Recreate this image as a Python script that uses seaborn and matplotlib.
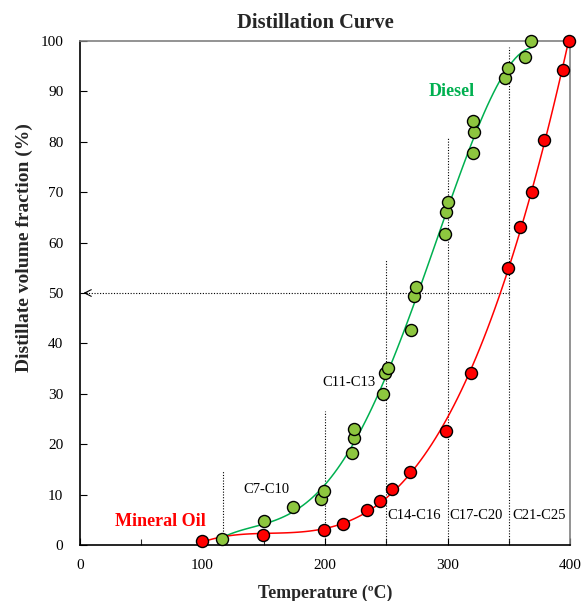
import numpy as np
import pandas as pd
import matplotlib
matplotlib.use("Agg")
import matplotlib.pyplot as plt
import seaborn as sns

# ---- data ----
diesel_temp = [116, 150, 174, 196.5, 199, 222, 224, 224, 247, 249, 251.5, 270, 273, 274,
               298, 299, 300, 320.5, 322, 321, 347, 349, 363, 368]
diesel_vol = [1.2, 4.8, 7.5, 9.1, 10.8, 18.2, 21.3, 23.0, 30.0, 34.1, 35.2, 42.7, 49.5, 51.2,
              61.8, 66.0, 68.1, 77.7, 81.9, 84.2, 92.6, 94.7, 96.9, 100]
oil_temp = [99.6, 149.6, 199.2, 214.5, 234.5, 244.5, 254.3, 269.3, 299, 319, 349, 359, 369, 379, 394, 399]
oil_vol = [0.7, 1.9, 3.0, 4.2, 7.0, 8.7, 11.1, 14.5, 22.6, 34.2, 55.0, 63.1, 70.0, 80.4, 94.2, 100]

cut_temps = [117, 200, 250, 300, 350]
cut_tops = [14.7, 26.6, 56.5, 81.0, 98.8]
cut_labels = ["C7-C10", "C11-C13", "C14-C16", "C17-C20", "C21-C25"]
x_ticks = [0, 100, 200, 300, 400]
y_ticks = [0, 10, 20, 30, 40, 50, 60, 70, 80, 90, 100]

diesel = pd.DataFrame({"T": diesel_temp, "V": diesel_vol})
oil = pd.DataFrame({"T": oil_temp, "V": oil_vol})

sns.set_theme(style="white")
plt.rcParams["font.family"] = ["Liberation Serif", "DejaVu Serif"]

fig = plt.figure(figsize=(5.83, 6.01), dpi=100)
ax = fig.add_axes([80 / 583, 56 / 601, 490 / 583, 504 / 601])

green_line = "#00B050"
green_fill = "#8DC63F"
red = "#FF0000"

# cut-off dotted lines
for t, top in zip(cut_temps, cut_tops):
    ax.plot([t, t], [0, top], color="black", lw=0.8, ls=(0, (1, 1.5)), zorder=1)
ax.plot([350, 3], [50, 50], color="black", lw=0.8, ls=(0, (1, 1.5)), zorder=1)
ax.annotate("", xy=(0.5, 50), xytext=(8, 50),
            arrowprops=dict(arrowstyle="->", lw=0.8, color="black"))

# trend curves
sns.regplot(data=diesel, x="T", y="V", order=4, ci=None, scatter=False, ax=ax,
            line_kws=dict(color=green_line, lw=1.1, zorder=2))
sns.regplot(data=oil, x="T", y="V", order=4, ci=None, scatter=False, ax=ax,
            line_kws=dict(color=red, lw=1.1, zorder=2))

sns.scatterplot(data=diesel, x="T", y="V", s=75, color=green_fill, edgecolor="black",
                linewidth=1.0, ax=ax, zorder=3, clip_on=False)
sns.scatterplot(data=oil, x="T", y="V", s=75, color=red, edgecolor="black",
                linewidth=1.0, ax=ax, zorder=3, clip_on=False)

ax.set_xlim(0, 400)
ax.set_ylim(0, 100)
ax.set_xticks(x_ticks)
ax.set_xticks([50, 150, 250, 350], minor=True)
ax.set_yticks(y_ticks)
ax.tick_params(axis="both", which="major", direction="in", length=5, width=0.8,
               labelsize=11, colors="black", left=True, bottom=True)
ax.tick_params(axis="y", which="major", pad=12)
ax.tick_params(axis="x", which="major", pad=10)
ax.tick_params(axis="x", which="minor", direction="in", length=4, width=0.8, bottom=True)
for s in ["left", "bottom"]:
    ax.spines[s].set_color("black")
    ax.spines[s].set_linewidth(1.2)
for s in ["top", "right"]:
    ax.spines[s].set_color("#808080")
    ax.spines[s].set_linewidth(1.2)

ax.set_xlabel("Temperature (ºC)", fontsize=12.8, fontweight="bold", labelpad=9)
ax.set_ylabel("Distillate volume fraction (%)", fontsize=14, fontweight="bold")
ax.yaxis.set_label_coords(-0.096, 0.59)
ax.set_title("Distillation Curve", fontsize=14.8, fontweight="bold", pad=9, x=0.48)

# cut labels (centre positions)
label_pos = [(152, 11.1), (219.5, 32.3), (272.5, 5.8), (323.5, 5.8), (374.5, 5.8)]
for (x, y), lab in zip(label_pos, cut_labels):
    ax.text(x, y, lab, fontsize=10.5, ha="center", va="center", color="black")

ax.text(303.5, 89.9, "Diesel", color=green_line, fontsize=13, fontweight="bold",
        ha="center", va="center")
ax.text(66, 4.6, "Mineral Oil", color=red, fontsize=13, fontweight="bold",
        ha="center", va="center")

fig.savefig("out.png", dpi=100)
